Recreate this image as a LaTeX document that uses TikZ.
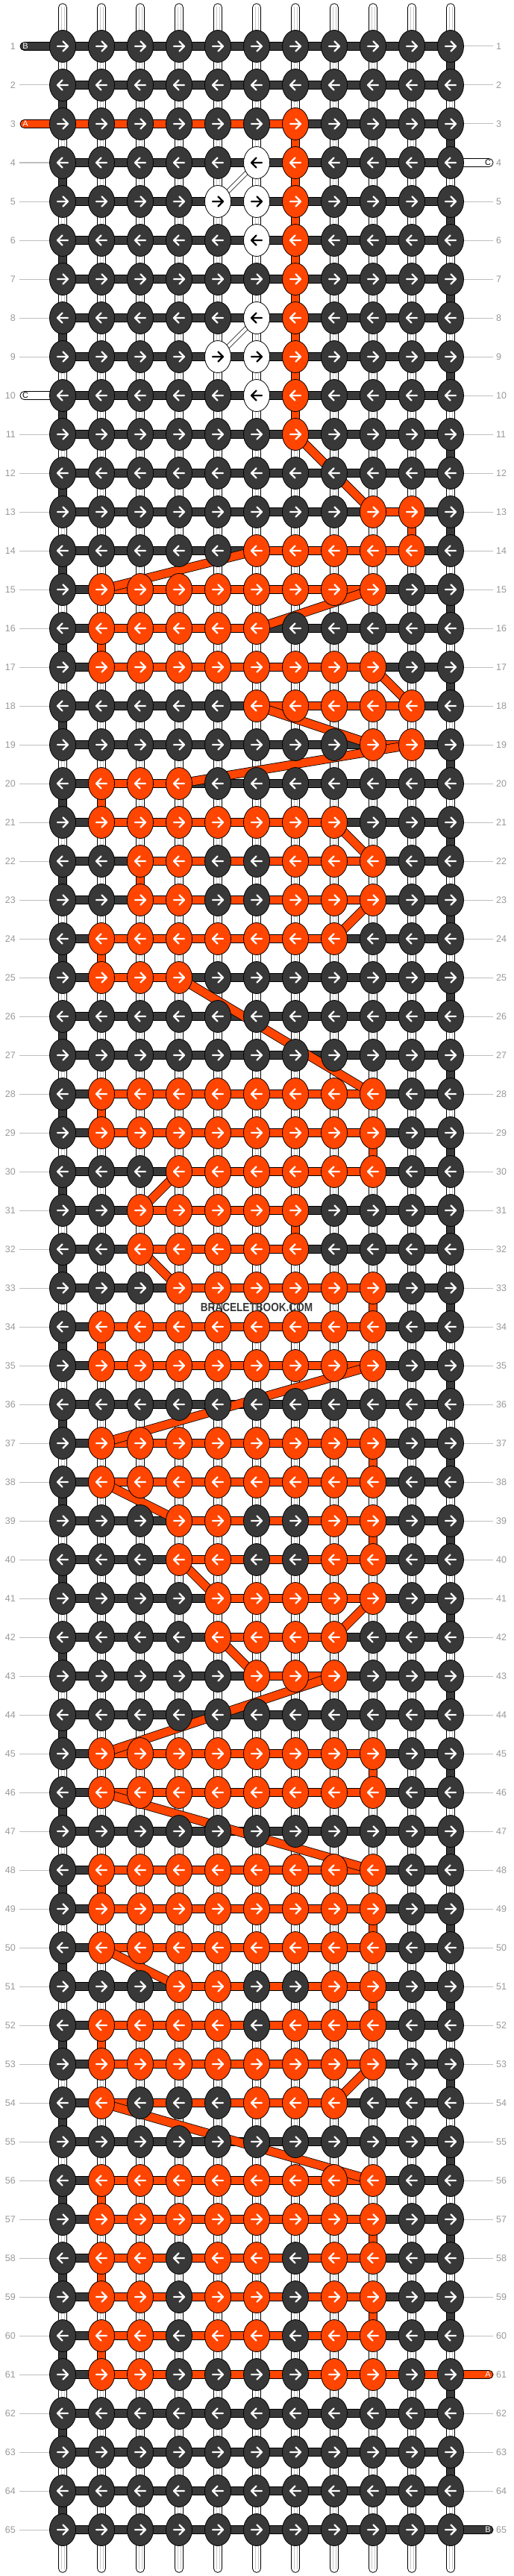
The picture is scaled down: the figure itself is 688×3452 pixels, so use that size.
\documentclass[tikz,border=0pt]{standalone}
\usepackage{fontspec}
\setmainfont{Liberation Sans}
\usetikzlibrary{shapes.geometric}
\definecolor{dk}{HTML}{383838}
\definecolor{orng}{HTML}{FF4500}
\definecolor{lblc}{HTML}{999999}
\definecolor{llc}{HTML}{BFBFBF}
\definecolor{inl}{HTML}{C8C8C8}
\tikzset{
  knotbase/.style={ellipse, inner sep=0pt, minimum width=35pt, minimum height=43pt, draw=black, line width=0.8pt},
  knot-d/.style={knotbase, fill=dk},
  knot-o/.style={knotbase, fill=orng},
  knot-w/.style={knotbase, fill=white},
  arr-d/.style={draw=white, line width=2.3pt, line cap=round, line join=round},
  arr-o/.style={arr-d},
  arr-w/.style={draw=black, line width=2.3pt, line cap=round, line join=round},
  tube/.style={fill=white, draw=black, line width=0.8pt},
  tubeline/.style={draw=inl, line width=0.6pt},
  vdark/.style={fill=dk, draw=black, line width=0.8pt},
  vorng/.style={fill=orng, draw=black, line width=0.8pt},
  hband/.style={fill=dk, draw=black, line width=0.8pt},
  oband/.style={fill=orng, draw=black, line width=0.8pt},
  wtail/.style={fill=white, draw=black, line width=0.8pt},
  diag/.style={draw=black, line width=0.8pt, double=orng, double distance=10.6pt},
  wdiag/.style={draw=black, line width=0.6pt, double=white, double distance=4.5pt},
  lblline/.style={draw=llc, line width=1pt},
  lbl/.style={text=lblc, font=\fontsize{12.5}{12.5}\selectfont, inner sep=0pt},
  taillbl/.style={font=\fontsize{11}{11}\selectfont, inner sep=0pt},
}
\newcommand\rowdata{%
1/{d,d,d,d,d,d,d,d,d,d,d},%
2/{d,d,d,d,d,d,d,d,d,d,d},%
3/{d,d,d,d,d,d,o,d,d,d,d},%
4/{d,d,d,d,d,w,o,d,d,d,d},%
5/{d,d,d,d,w,w,o,d,d,d,d},%
6/{d,d,d,d,d,w,o,d,d,d,d},%
7/{d,d,d,d,d,d,o,d,d,d,d},%
8/{d,d,d,d,d,w,o,d,d,d,d},%
9/{d,d,d,d,w,w,o,d,d,d,d},%
10/{d,d,d,d,d,w,o,d,d,d,d},%
11/{d,d,d,d,d,d,o,d,d,d,d},%
12/{d,d,d,d,d,d,d,d,d,d,d},%
13/{d,d,d,d,d,d,d,d,o,o,d},%
14/{d,d,d,d,d,o,o,o,o,o,d},%
15/{d,o,o,o,o,o,o,o,o,d,d},%
16/{d,o,o,o,o,o,d,d,d,d,d},%
17/{d,o,o,o,o,o,o,o,o,d,d},%
18/{d,d,d,d,d,o,o,o,o,o,d},%
19/{d,d,d,d,d,d,d,d,o,o,d},%
20/{d,o,o,o,d,d,d,d,d,d,d},%
21/{d,o,o,o,o,o,o,o,d,d,d},%
22/{d,d,o,o,d,d,o,o,o,d,d},%
23/{d,d,o,o,d,d,o,o,o,d,d},%
24/{d,o,o,o,o,o,o,o,d,d,d},%
25/{d,o,o,o,d,d,d,d,d,d,d},%
26/{d,d,d,d,d,d,d,d,d,d,d},%
27/{d,d,d,d,d,d,d,d,d,d,d},%
28/{d,o,o,o,o,o,o,o,o,d,d},%
29/{d,o,o,o,o,o,o,o,o,d,d},%
30/{d,d,d,o,o,o,o,o,o,d,d},%
31/{d,d,o,o,o,o,o,d,d,d,d},%
32/{d,d,o,o,o,o,o,d,d,d,d},%
33/{d,d,d,o,o,o,o,o,o,d,d},%
34/{d,o,o,o,o,o,o,o,o,d,d},%
35/{d,o,o,o,o,o,o,o,o,d,d},%
36/{d,d,d,d,d,d,d,d,d,d,d},%
37/{d,o,o,o,o,o,o,o,o,d,d},%
38/{d,o,o,o,o,o,o,o,o,d,d},%
39/{d,d,d,o,o,d,d,o,o,d,d},%
40/{d,d,d,o,o,d,d,o,o,d,d},%
41/{d,d,d,d,o,o,o,o,o,d,d},%
42/{d,d,d,d,o,o,o,o,d,d,d},%
43/{d,d,d,d,d,o,o,o,d,d,d},%
44/{d,d,d,d,d,d,d,d,d,d,d},%
45/{d,o,o,o,o,o,o,o,o,d,d},%
46/{d,o,o,o,o,o,o,o,o,d,d},%
47/{d,d,d,d,d,d,d,d,d,d,d},%
48/{d,o,o,o,o,o,o,o,o,d,d},%
49/{d,o,o,o,o,o,o,o,o,d,d},%
50/{d,o,o,o,o,o,o,o,o,d,d},%
51/{d,d,d,o,o,d,d,o,o,d,d},%
52/{d,o,o,o,o,d,o,o,o,d,d},%
53/{d,o,o,o,o,o,o,o,o,d,d},%
54/{d,o,d,d,d,o,o,o,d,d,d},%
55/{d,d,d,d,d,d,d,d,d,d,d},%
56/{d,o,o,o,o,o,o,o,o,d,d},%
57/{d,o,o,o,o,o,o,o,o,d,d},%
58/{d,o,o,d,o,o,d,o,o,d,d},%
59/{d,o,o,d,o,o,d,o,o,d,d},%
60/{d,o,o,d,o,o,d,o,o,d,d},%
61/{d,o,o,d,d,d,d,o,o,d,d},%
62/{d,d,d,d,d,d,d,d,d,d,d},%
63/{d,d,d,d,d,d,d,d,d,d,d},%
64/{d,d,d,d,d,d,d,d,d,d,d},%
65/{d,d,d,d,d,d,d,d,d,d,d}}
\begin{document}
\begin{tikzpicture}[x=1pt,y=-1pt]
\useasboundingbox (0,0) rectangle (688,3452);
\fill[white] (0,0) rectangle (688,3452);
% grid coordinates
\foreach \r in {1,...,65}{
  \foreach \k in {1,...,11}{
    \coordinate (p-\r-\k) at ({344+(\k-6)*52},{62+(\r-1)*52});
  }
}
\foreach \k in {1,...,11}{
  \coordinate (tt-\k) at ({344+(\k-6)*52},4.7);
  \coordinate (tb-\k) at ({344+(\k-6)*52},3447.3);
}
\coordinate (tl-B) at (27,62);
\coordinate (tl-A) at (27,166);
\coordinate (tl-C) at (27,530);
\coordinate (tr-C) at (661,218);
\coordinate (tr-A) at (661,3182);
\coordinate (tr-B) at (661,3390);
% top and bottom tubes
\foreach \k in {1,...,11}{
  \path[tube, rounded corners=5.4pt] ([xshift=-5.5pt]tt-\k) rectangle ([xshift=5.5pt]p-1-\k);
  \draw[tubeline] ([xshift=-1.8pt,yshift=-4pt]tt-\k) -- ([xshift=-1.8pt]p-1-\k)
                  ([xshift=1.8pt,yshift=-4pt]tt-\k) -- ([xshift=1.8pt]p-1-\k);
  \path[tube, rounded corners=5.4pt] ([xshift=-5.5pt]p-65-\k) rectangle ([xshift=5.5pt]tb-\k);
  \draw[tubeline] ([xshift=-1.8pt]p-65-\k) -- ([xshift=-1.8pt,yshift=4pt]tb-\k)
                  ([xshift=1.8pt]p-65-\k) -- ([xshift=1.8pt,yshift=4pt]tb-\k);
}
% vertical white strands
\foreach \r in {1,...,64}{
  \pgfmathtruncatemacro\rr{\r+1}
  \foreach \k in {1,...,11}{
    \path[tube] ([xshift=-5.5pt]p-\r-\k) rectangle ([xshift=5.5pt]p-\rr-\k);
    \draw[tubeline] ([xshift=-1.8pt]p-\r-\k) -- ([xshift=-1.8pt]p-\rr-\k)
                    ([xshift=1.8pt]p-\r-\k) -- ([xshift=1.8pt]p-\rr-\k);
  }
}
% dark turns at the edges
\foreach \r in {1,...,64}{
  \pgfmathtruncatemacro\rr{\r+1}
  \pgfmathtruncatemacro\kk{mod(\r,2)==1 ? 11 : 1}
  \path[vdark] ([xshift=-5.5pt]p-\r-\kk) rectangle ([xshift=5.5pt]p-\rr-\kk);
}
% orange vertical runs
\foreach \r/\k in {3/7,4/7,5/7,6/7,7/7,8/7,9/7,10/7,13/10,16/2,20/2,22/3,24/2,28/2,29/9,31/7,33/9,34/2,37/9,39/9,45/9,48/2,49/9,51/9,52/2,56/2,57/9,58/2,59/9,60/2}{
  \pgfmathtruncatemacro\rr{\r+1}
  \path[vorng] ([xshift=-5.5pt]p-\r-\k) rectangle ([xshift=5.5pt]p-\rr-\k);
}
% horizontal dark bands
\foreach \r in {1,...,65}{
  \path[hband] ([yshift=5.5pt]p-\r-1) rectangle ([yshift=-5.5pt]p-\r-11);
}
% label lines
\foreach \r in {1,...,65}{
  \pgfmathtruncatemacro\hl{(\r==1)||(\r==3)||(\r==10)}
  \pgfmathtruncatemacro\hr{(\r==4)||(\r==61)||(\r==65)}
  \ifnum\hl=0 \draw[lblline] ([xshift=-58pt]p-\r-1) -- ([xshift=-17pt]p-\r-1); \fi
  \ifnum\hr=0 \draw[lblline] ([xshift=17pt]p-\r-11) -- ([xshift=57pt]p-\r-11); \fi
  \node[lbl, anchor=east] (ll-\r) at ([xshift=-63pt]p-\r-1) {\r};
  \node[lbl, anchor=west] (rl-\r) at ([xshift=61pt]p-\r-11) {\r};
}
% tails
\path[hband, rounded corners=5.4pt] ([yshift=5.5pt]tl-B) rectangle ([yshift=-5.5pt]p-1-1);
\path[oband, rounded corners=5.4pt] ([yshift=5.5pt]tl-A) rectangle ([yshift=-5.5pt]p-3-7);
\path[wtail, rounded corners=5.4pt] ([yshift=5.5pt]tl-C) rectangle ([yshift=-5.5pt]p-10-1);
\path[wtail, rounded corners=5.4pt] ([yshift=5.5pt]p-4-11) rectangle ([yshift=-5.5pt]tr-C);
\path[oband, rounded corners=5.4pt] ([yshift=5.5pt]p-61-2) rectangle ([yshift=-5.5pt]tr-A);
\path[hband, rounded corners=5.4pt] ([yshift=5.5pt]p-65-11) rectangle ([yshift=-5.5pt]tr-B);
\node[taillbl, text=white] (tB1) at ([xshift=7pt]tl-B) {B};
\node[taillbl, text=white] (tA1) at ([xshift=7pt]tl-A) {A};
\node[taillbl, text=black] (tC1) at ([xshift=7pt]tl-C) {C};
\node[taillbl, text=black] (tC2) at ([xshift=-7pt]tr-C) {C};
\node[taillbl, text=white] (tA2) at ([xshift=-7pt]tr-A) {A};
\node[taillbl, text=white] (tB2) at ([xshift=-7pt]tr-B) {B};
% orange horizontal runs
\foreach \r/\a/\b in {13/9/10,14/6/10,15/2/9,16/2/6,17/2/9,18/6/10,19/9/10,20/2/4,21/2/8,22/3/9,23/3/9,24/2/8,25/2/4,28/2/9,29/2/9,30/4/9,31/3/7,32/3/7,33/4/9,34/2/9,35/2/9,37/2/9,38/2/9,39/4/9,40/4/9,41/5/9,42/5/8,43/6/8,45/2/9,46/2/9,48/2/9,49/2/9,50/2/9,51/4/9,52/2/9,53/2/9,54/2/8,56/2/9,57/2/9,58/2/9,59/2/9,60/2/9}{
  \path[oband] ([yshift=5.5pt]p-\r-\a) rectangle ([yshift=-5.5pt]p-\r-\b);
}
% white thread crossings
\draw[wdiag] (p-4-6) -- (p-5-5);
\draw[wdiag] (p-8-6) -- (p-9-5);
% orange diagonal runs
\foreach \r/\c/\s/\d in {11/7/13/9,14/6/15/2,15/9/16/6,17/9/18/10,18/6/19/9,19/10/20/4,21/8/22/9,23/9/24/8,25/4/28/9,30/4/31/3,32/3/33/4,35/9/37/2,38/2/39/4,40/4/41/5,41/9/42/8,42/5/43/6,43/8/45/2,46/2/48/9,50/2/51/4,53/9/54/8,54/2/56/9}{
  \draw[diag] (p-\r-\c) -- (p-\s-\d);
}
% knots
\foreach \r/\s in \rowdata {
  \pgfmathsetmacro\yy{62+(\r-1)*52}
  \pgfmathsetmacro\dd{2*mod(\r,2)-1}
  \foreach \c [count=\k] in \s {
    \pgfmathsetmacro\xx{344+(\k-6)*52}
    \node[knot-\c] (k-\r-\k) at (\xx,\yy) {};
    \draw[arr-\c] (\xx-7*\dd,\yy) -- (\xx+7*\dd,\yy)
      (\xx+0.5*\dd,\yy-6.5) -- (\xx+7*\dd,\yy) -- (\xx+0.5*\dd,\yy+6.5);
  }
}
% watermark
\node[font=\bfseries\fontsize{16}{16}\selectfont, text=dk, inner sep=0pt] (wm) at (344,1752) {\scalebox{0.85}[1]{BRACELETBOOK.COM}};
\end{tikzpicture}
\end{document}
